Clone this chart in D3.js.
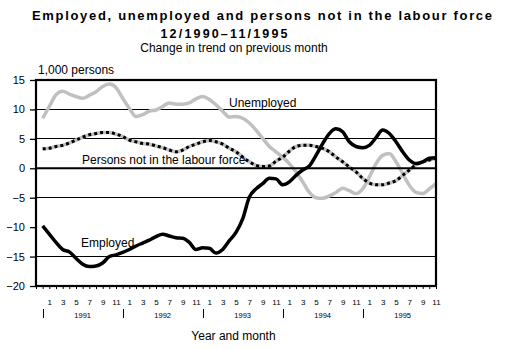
<!DOCTYPE html>
<html>
<head>
<meta charset="utf-8">
<script src="https://cdn.jsdelivr.net/npm/d3@7"></script>
<style>
  html, body { margin: 0; padding: 0; background: #fff; }
  svg { display: block; font-family: "Liberation Sans", Arial, Helvetica, sans-serif; }
</style>
</head>
<body>
<svg id="chart" width="509" height="349"></svg>
<script>
// Monthly change in trend, thousands of persons, Dec 1990 .. Nov 1995
const employed = [-9.8,-11.2,-12.6,-13.8,-14.2,-15.3,-16.3,-16.7,-16.6,-16.1,
  -15.0,-14.7,-14.3,-13.8,-13.2,-12.7,-12.2,-11.6,-11.2,-11.5,
  -11.8,-11.9,-12.6,-13.8,-13.5,-13.6,-14.4,-13.8,-12.3,-10.9,
  -8.6,-4.9,-3.5,-2.6,-1.7,-1.8,-2.8,-2.3,-1.2,-0.3,
  0.4,2.2,4.2,5.9,6.7,6.2,4.5,3.7,3.5,3.9,
  5.2,6.5,5.9,4.5,2.8,1.4,0.8,1.1,1.7,1.8];
const unemployed = [8.5,10.5,12.5,13.1,12.6,12.2,11.9,12.4,13.0,13.9,
  14.3,13.7,11.9,10.2,8.8,9.1,9.7,9.9,10.5,11.1,
  10.9,10.9,11.1,11.8,12.2,11.7,10.8,9.7,8.7,8.8,
  8.5,7.7,6.5,5.1,3.7,2.8,1.9,0.8,-0.6,-2.3,
  -4.1,-5.0,-5.1,-4.7,-4.1,-3.4,-3.8,-4.3,-3.5,-1.5,
  0.8,2.2,2.5,1.1,-0.9,-2.9,-4.1,-4.3,-3.5,-2.6];
const notInLabourForce = [3.3,3.4,3.7,3.9,4.3,4.8,5.3,5.7,5.9,6.1,
  6.1,5.8,5.4,4.8,4.5,4.2,4.1,3.8,3.5,3.1,
  2.8,3.1,3.7,4.1,4.5,4.7,4.5,4.1,3.4,2.8,
  1.9,1.1,0.5,0.3,0.4,1.2,1.9,2.9,3.7,3.9,
  3.9,3.7,3.4,2.8,1.9,1.1,0.2,-0.6,-1.7,-2.5,
  -2.8,-2.8,-2.5,-2.1,-1.2,-0.3,0.6,1.1,1.4,1.7];
const years = ["1991", "1992", "1993", "1994", "1995"];
const monthLabels = ["1", "3", "5", "7", "9", "11"];
const yTicks = [15, 10, 5, 0, -5, -10, -15, -20];
const gridValues = [10, 5, -5, -15];

const svg = d3.select("#chart");
const L = 36, R = 436, T = 80, B = 286;

// index 0 = Nov 1990 (frame edge), data runs 1..60 = Dec 1990 .. Nov 1995
const x = d3.scaleLinear().domain([0, 60]).range([L, R]);
const y = d3.scaleLinear().domain([-20, 15]).range([B, T]);
const monthOf = i => ((i + 10) % 12) + 1;

// titles
svg.append("text").attr("x", 262).attr("y", 19.5).attr("text-anchor", "middle")
  .attr("font-size", 13).attr("font-weight", "bold")
  .attr("textLength", 460).attr("lengthAdjust", "spacing")
  .text("Employed, unemployed and persons not in the labour force");
svg.append("text").attr("x", 224).attr("y", 37.5).attr("text-anchor", "middle")
  .attr("font-size", 12.5).attr("font-weight", "bold")
  .attr("textLength", 127).attr("lengthAdjust", "spacing")
  .text("12/1990\u201311/1995");
svg.append("text").attr("x", 234).attr("y", 52).attr("text-anchor", "middle")
  .attr("font-size", 12).text("Change in trend on previous month");
svg.append("text").attr("x", 38).attr("y", 73.5).attr("font-size", 12).text("1,000 persons");

// grid lines
svg.append("g").selectAll("line").data(gridValues).join("line")
  .attr("x1", L).attr("x2", R).attr("y1", d => y(d)).attr("y2", d => y(d))
  .attr("stroke", "#000").attr("stroke-width", 1).attr("shape-rendering", "crispEdges");

// y axis
const yAxis = svg.append("g").attr("transform", `translate(${L},0)`)
  .call(d3.axisLeft(y).tickValues(yTicks).tickSize(6).tickPadding(5).tickFormat(d3.format("d")));
yAxis.select(".domain").remove();
yAxis.selectAll(".tick line").attr("stroke-width", 1.3);
yAxis.selectAll("text").attr("font-size", 11).attr("font-family", "Liberation Sans, Arial, sans-serif").attr("fill", "#000");

// x axis: a tick each month, odd months labelled
const xAxis = svg.append("g").attr("transform", `translate(0,${B})`)
  .call(d3.axisBottom(x).tickValues(d3.range(0, 61)).tickSize(3)
    .tickFormat(i => (i >= 1 && monthLabels.includes(String(monthOf(i)))) ? String(monthOf(i)) : ""));
xAxis.select(".domain").remove();
xAxis.selectAll("text").attr("font-size", 8).attr("y", 19).attr("dy", 0)
  .attr("font-family", "Liberation Sans, Arial, sans-serif").attr("fill", "#000");

// year separators and labels
const yearStarts = years.map((yr, k) => 1 + 12 * k);
svg.append("g").selectAll("line").data(yearStarts).join("line")
  .attr("x1", d => Math.round(x(d)) + 0.5).attr("x2", d => Math.round(x(d)) + 0.5)
  .attr("y1", 309).attr("y2", 318).attr("stroke", "#000").attr("stroke-width", 1);
svg.append("g").selectAll("text").data(years).join("text")
  .attr("x", (d, k) => x(yearStarts[k] + 6)).attr("y", 317.5).attr("text-anchor", "middle")
  .attr("font-size", 7.5).text(d => d);
svg.append("text").attr("x", 233.5).attr("y", 340).attr("text-anchor", "middle")
  .attr("font-size", 12).text("Year and month");

// series
const idx = d3.range(1, 61);
const line = d3.line().x(d => x(d[0])).y(d => y(d[1])).curve(d3.curveMonotoneX);
const pts = arr => idx.map((i, k) => [i, arr[k]]);
const grey = "#c0c0c0";

svg.append("path").attr("d", line(pts(unemployed))).attr("fill", "none")
  .attr("stroke", grey).attr("stroke-width", 3.5).attr("stroke-linejoin", "round");
svg.append("path").attr("d", line(pts(notInLabourForce))).attr("fill", "none")
  .attr("stroke", grey).attr("stroke-width", 3.5);
svg.append("path").attr("d", line(pts(notInLabourForce))).attr("fill", "none")
  .attr("stroke", "#000").attr("stroke-width", 3).attr("stroke-dasharray", "3,3");
svg.append("path").attr("d", line(pts(employed))).attr("fill", "none")
  .attr("stroke", "#000").attr("stroke-width", 3.5).attr("stroke-linejoin", "round");

// frame and zero line
svg.append("line").attr("x1", L).attr("x2", R).attr("y1", y(0)).attr("y2", y(0))
  .attr("stroke", "#000").attr("stroke-width", 2);
svg.append("rect").attr("x", L).attr("y", T).attr("width", R - L).attr("height", B - T)
  .attr("fill", "none").attr("stroke", "#000").attr("stroke-width", 2.2);

// series labels
svg.append("text").attr("x", 229).attr("y", 107).attr("font-size", 12).text("Unemployed");
svg.append("text").attr("x", 82).attr("y", 163.5).attr("font-size", 12).text("Persons not in the labour force");
svg.append("text").attr("x", 81).attr("y", 247).attr("font-size", 12).text("Employed");
</script>
</body>
</html>
